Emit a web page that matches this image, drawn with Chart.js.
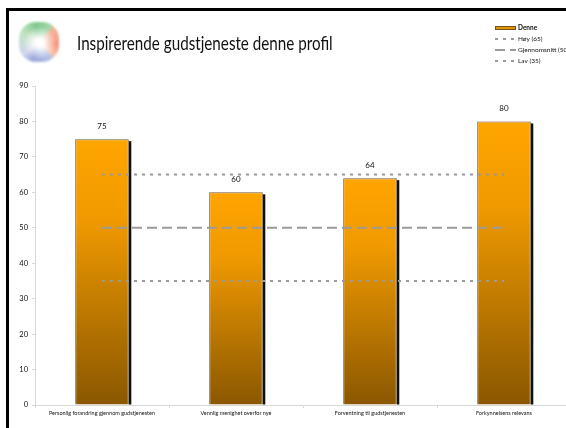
<!DOCTYPE html>
<html>
<head>
<meta charset="utf-8">
<script src="https://cdn.jsdelivr.net/npm/chart.js@4/dist/chart.umd.min.js"></script>
<style>
html,body{margin:0;padding:0;width:566px;height:428px;overflow:hidden;background:#fff;font-family:Lato,"Open Sans",sans-serif}
#frame{position:absolute;left:6px;top:8px;width:700px;height:600px;border:3px solid #000;box-sizing:border-box}
#logo{position:absolute;left:19px;top:22px;width:40px;height:40px;border-radius:42%;
 background:radial-gradient(circle at 52% 52%,#fff 0,#fff 14%,rgba(255,255,255,.6) 30%,rgba(255,255,255,0) 55%),
 conic-gradient(from -60deg,#b8dfb8 0deg,#6cc07a 50deg,#8fd29a 95deg,#f4a387 110deg,#f58563 160deg,#f7b8a0 190deg,#a9b6e2 205deg,#8c9bd6 260deg,#c9d0ec 290deg,#b8dfb8 360deg);
 filter:blur(1.2px);opacity:.85}
#title{position:absolute;left:77px;top:31px;font-size:19px;color:#111;white-space:nowrap;transform:scaleX(0.8);transform-origin:0 0}
#wrap{position:absolute;left:0;top:0;width:580px;height:428px}
</style>
</head>
<body>
<div id="frame"></div>
<div id="logo"></div>
<div id="title">Inspirerende gudstjeneste denne profil</div>
<div id="wrap"><canvas id="c" width="580" height="428"></canvas></div>
<script>
const kategorier=["Personlig forandring gjennom gudstjenesten","Vennlig menighet overfor nye","Forventning til gudstjenesten","Forkynnelsens relevans"];
const denne=[75,60,64,80];
const hoy=[65,65,65,65];
const snitt=[50,50,50,50];
const lav=[35,35,35,35];
const yMin=0,yMax=90,yStep=10;

function barFarge(ctx){
 const chart=ctx.chart;
 if(!chart.chartArea||ctx.raw==null)return "#FFA500";
 const y=chart.scales.y;
 const top=y.getPixelForValue(ctx.raw),bunn=y.getPixelForValue(0);
 const g=chart.ctx.createLinearGradient(0,top,0,bunn);
 g.addColorStop(0,"#FFA500");
 g.addColorStop(0.3,"#F09A00");
 g.addColorStop(1,"#8A5700");
 return g;
}

const skygge={
 id:"skygge",
 beforeDatasetsDraw(chart){
  const c=chart.ctx;
  chart.getDatasetMeta(0).data.forEach(b=>{
   c.save();c.fillStyle="#111";
   c.fillRect(b.x+b.width/2,b.y+2,2.5,b.base-b.y-2);
   c.restore();
  });
 }
};

const verdier={
 id:"verdier",
 afterDatasetsDraw(chart){
  const c=chart.ctx;
  c.save();c.fillStyle="#111";c.font="8px Lato";c.textAlign="center";c.textBaseline="middle";
  chart.getDatasetMeta(0).data.forEach((b,i)=>{c.fillText(denne[i],b.x,b.y-13)});
  c.restore();
 }
};

const forklaring={
 id:"forklaring",
 afterDraw(chart){
  const c=chart.ctx;
  const x0=495,x1=516,ys=[28,39,50,61];
  c.save();c.textBaseline="middle";
  chart.data.datasets.forEach((d,i)=>{
   const y=ys[i];
   if(d.type==="bar"){
    c.fillStyle="#E89400";c.fillRect(x0,y-2,x1-x0,4);
    c.strokeStyle="#6e5220";c.lineWidth=1;c.strokeRect(x0+0.5,y-1.5,x1-x0-1,3);
    c.font="bold 6.5px Lato";
   }else{
    c.strokeStyle=d.borderColor;c.lineWidth=d.borderWidth;c.setLineDash(d.borderDash);
    c.beginPath();c.moveTo(x0,y);c.lineTo(x1,y);c.stroke();c.setLineDash([]);
    c.font="6.5px Lato";
   }
   c.fillStyle="#111";c.fillText(d.label,x1+2,y);
  });
  c.restore();
 }
};

new Chart(document.getElementById("c"),{
 data:{
  labels:kategorier,
  datasets:[
   {type:"bar",label:"Denne",data:denne,backgroundColor:barFarge,borderColor:"#6e5a3a",borderWidth:1,barPercentage:0.4,categoryPercentage:1,order:2},
   {type:"line",label:"Høy (65)",data:hoy,borderColor:"#9a9a9a",borderWidth:2,borderDash:[3,5],pointRadius:0,fill:false,order:1},
   {type:"line",label:"Gjennomsnitt (50)",data:snitt,borderColor:"#9a9a9a",borderWidth:2,borderDash:[10,5],pointRadius:0,fill:false,order:1},
   {type:"line",label:"Lav (35)",data:lav,borderColor:"#9a9a9a",borderWidth:2,borderDash:[3,5],pointRadius:0,fill:false,order:1}
  ]
 },
 options:{
  responsive:false,animation:false,
  layout:{padding:{left:0,top:86,right:9,bottom:0}},
  plugins:{legend:{display:false},tooltip:{enabled:false}},
  scales:{
   x:{
    grid:{offset:true,drawOnChartArea:false,tickLength:3,color:"#d8d8d8"},
    border:{color:"#d8d8d8"},
    ticks:{font:{family:"Lato",size:5.5},color:"#111",maxRotation:0,autoSkip:false,padding:2},
    afterFit(s){s.height=23}
   },
   y:{
    min:yMin,max:yMax,
    grid:{drawOnChartArea:false,tickLength:3,color:"#d8d8d8"},
    border:{color:"#d8d8d8"},
    ticks:{stepSize:yStep,font:{family:"Lato",size:7.5},color:"#111",padding:4},
    afterFit(s){s.width=35}
   }
  }
 },
 plugins:[skygge,verdier,forklaring]
});
</script>
</body>
</html>
